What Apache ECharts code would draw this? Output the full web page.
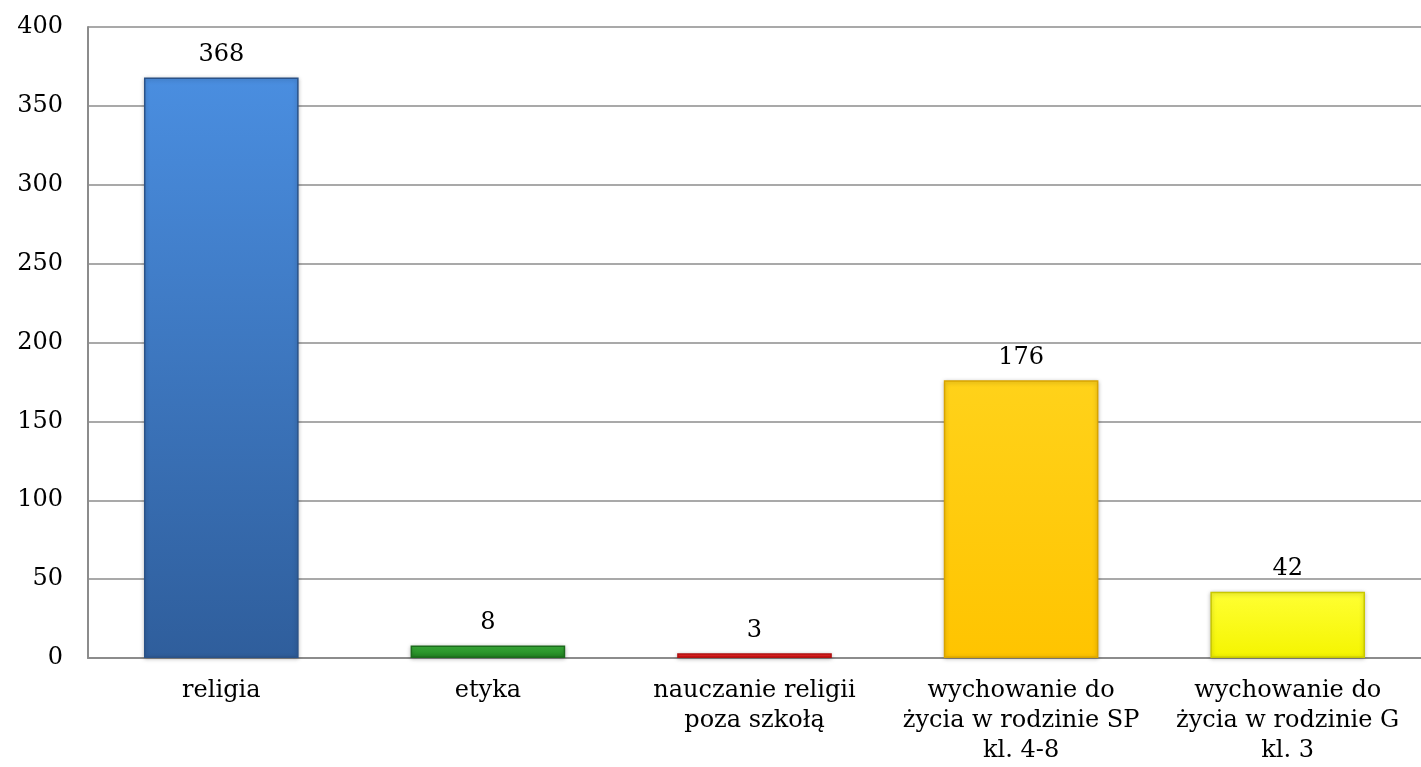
<!DOCTYPE html>
<html>
<head>
<meta charset="utf-8">
<script src="https://cdn.jsdelivr.net/npm/echarts@6/dist/echarts.min.js"></script>
<style>
  html, body { margin: 0; padding: 0; background: #fff; }
  #box { width: 1421px; height: 767px; }
</style>
</head>
<body>
<div id="box"></div>
<script>
const categories = ['religia', 'etyka', 'nauczanie religii\npoza szkołą', 'wychowanie do\nżycia w rodzinie SP\nkl. 4-8', 'wychowanie do\nżycia w rodzinie G\nkl. 3'];
const values = [368, 8, 3, 176, 42];
// top / bottom / edge colour for each bar
const barTop = ['#4a8ee0', '#3cb43c', '#ff3030', '#ffd21a', '#ffff33'];
const barBottom = ['#2f5e9c', '#1f7f1f', '#d81010', '#ffc400', '#f5f500'];
const barEdge = ['#2a5288', '#1c6b1c', '#b01010', '#d9a400', '#c8c800'];

const font = '"DejaVu Serif", "Liberation Serif", serif';

let myecharts = echarts.init(document.getElementById('box'));
let option = {
  animation: false,
  grid: { left: 88, right: -5, top: 27, bottom: 109 },
  xAxis: {
    type: 'category',
    data: categories,
    axisLine: { lineStyle: { color: '#8c8c8c', width: 2 } },
    axisTick: { show: false },
    axisLabel: {
      color: '#000',
      fontFamily: font,
      fontSize: 24,
      lineHeight: 30,
      margin: 18,
      interval: 0
    }
  },
  yAxis: {
    type: 'value',
    min: 0,
    max: 400,
    interval: 50,
    axisLine: { show: true, lineStyle: { color: '#8c8c8c', width: 2 } },
    axisTick: { show: false },
    splitLine: { lineStyle: { color: '#8c8c8c', width: 1.5 } },
    axisLabel: {
      color: '#000',
      fontFamily: font,
      fontSize: 24,
      margin: 25
    }
  },
  series: [{
    type: 'bar',
    barWidth: '58%',
    data: values.map((v, i) => ({
      value: v,
      itemStyle: {
        color: new echarts.graphic.LinearGradient(0, 0, 0, 1, [
          { offset: 0, color: barTop[i] },
          { offset: 1, color: barBottom[i] }
        ]),
        borderColor: barEdge[i],
        borderWidth: 1.5,
        shadowColor: 'rgba(0,0,0,0.25)',
        shadowBlur: 4,
        shadowOffsetY: 1
      }
    })),
    label: {
      show: true,
      position: 'top',
      distance: 11,
      color: '#000',
      fontFamily: font,
      fontSize: 24
    }
  }]
};
myecharts.setOption(option);
</script>
</body>
</html>
